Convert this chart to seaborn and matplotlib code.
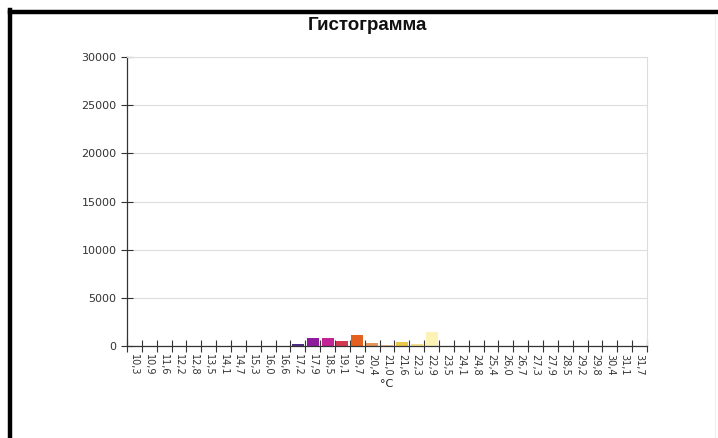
import numpy as np
import pandas as pd
import matplotlib
matplotlib.use("Agg")
import matplotlib.pyplot as plt
from matplotlib.lines import Line2D
import seaborn as sns

# temperature bins (labels as on the chart) and counts
categories = ["10,3", "10,9", "11,6", "12,2", "12,8", "13,5", "14,1", "14,7", "15,3",
              "16,0", "16,6", "17,2", "17,9", "18,5", "19,1", "19,7", "20,4", "21,0",
              "21,6", "22,3", "22,9", "23,5", "24,1", "24,8", "25,4", "26,0", "26,7",
              "27,3", "27,9", "28,5", "29,2", "29,8", "30,4", "31,1", "31,7"]
counts = [0, 0, 0, 0, 0, 0, 0, 0, 0,
          0, 40, 220, 850, 880, 480, 1100, 260, 150,
          380, 230, 1450, 0, 0, 0, 0, 0, 0,
          0, 0, 0, 0, 0, 0, 0, 0]
bar_colors = ["#2a0a3a"] * 10 + [
    "#2a1040", "#4e2d84", "#8e1c9c", "#c42395", "#d2384f", "#e4601e", "#e89658",
    "#f1b98a", "#ebc84a", "#f3e08c", "#fbf2b4"] + ["#ffffff"] * 14
y_ticks = [0, 5000, 10000, 15000, 20000, 25000, 30000]

df = pd.DataFrame({"bin": categories, "count": counts})

sns.set_theme(style="white")
plt.rcParams["font.family"] = ["DejaVu Sans"]

fig = plt.figure(figsize=(7.18, 4.38), dpi=100)
ax = fig.add_axes([127 / 718, 1 - 346 / 438, 520 / 718, 289 / 438])

sns.barplot(data=df, x="bin", y="count", hue="bin", palette=bar_colors,
            legend=False, width=0.8, ax=ax, saturation=1, linewidth=0)

ax.set_xlim(-0.5, len(categories) - 0.5)
ax.set_ylim(0, 30000)
ax.set_yticks(y_ticks)
ax.set_yticklabels([str(v) for v in y_ticks], fontsize=8, color="#333333")
ax.yaxis.grid(True, color="#dddddd", linewidth=0.8)
ax.set_axisbelow(True)

ax.set_xticks(range(len(categories)))
ax.set_xticklabels(categories, rotation=-90, fontsize=7, color="#333333")
ax.set_xticks(np.arange(-0.5, len(categories)), minor=True)
ax.tick_params(axis="x", which="major", length=0, pad=6)
ax.tick_params(axis="x", which="minor", direction="inout", length=9, width=0.8,
               color="#333333", bottom=True)
ax.tick_params(axis="y", which="major", direction="inout", length=9, width=0.8,
               color="#333333", left=True, pad=3)

for side in ["left", "bottom"]:
    ax.spines[side].set_color("#333333")
    ax.spines[side].set_linewidth(0.9)
for side in ["top", "right"]:
    ax.spines[side].set_color("#dddddd")
    ax.spines[side].set_linewidth(0.8)

ax.set_xlabel("°C", fontsize=8, labelpad=2, color="#222222")
ax.set_ylabel("")
fig.text(367 / 718, 1 - 26 / 438, "Гистограмма", ha="center", va="center",
         fontsize=13.5, fontweight="bold", family="Liberation Sans", color="#111111")

# black frame around the picture (left and top)
fig.add_artist(Line2D([10 / 718, 10 / 718], [0, 1 - 10 / 438], color="black",
                      linewidth=3.2, transform=fig.transFigure, solid_capstyle="projecting"))
fig.add_artist(Line2D([10 / 718, 1], [1 - 12 / 438, 1 - 12 / 438], color="black",
                      linewidth=3.2, transform=fig.transFigure, solid_capstyle="projecting"))
fig.add_artist(Line2D([715 / 718, 715 / 718], [0, 1 - 14 / 438], color="#eeeeee",
                      linewidth=0.8, transform=fig.transFigure))

fig.savefig("out.png", dpi=100)
